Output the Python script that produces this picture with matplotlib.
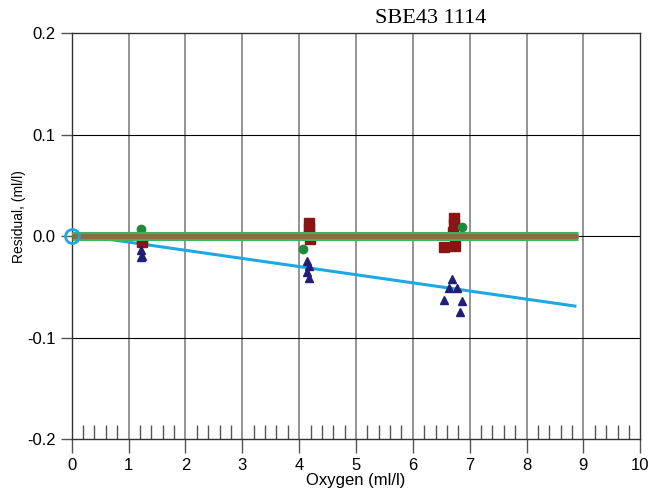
import matplotlib
matplotlib.use("Agg")
import matplotlib.pyplot as plt
import numpy as np

# Data
circ_x = [1.22, 4.07, 6.86]
circ_y = [0.0066, -0.013, 0.009]
sq_x = [1.23, 1.23, 4.17, 4.17, 4.17, 4.19, 6.55, 6.73, 6.73, 6.74, 6.70]
sq_y = [-0.003, -0.0056, 0.0125, 0.008, 0.002, -0.003, -0.0105, 0.018, 0.012, -0.0095, 0.004]
tri_x = [1.21, 1.23, 1.21, 4.14, 4.17, 4.14, 4.17, 6.68, 6.63, 6.77, 6.55, 6.87, 6.83]
tri_y = [-0.014, -0.0196, -0.021, -0.025, -0.030, -0.035, -0.041, -0.042, -0.0515, -0.0515, -0.063, -0.064, -0.0745]
green_line_x = [0.0, 8.9]
green_line_y = [0.0005, 0.0005]
brown_line_x = [0.0, 8.9]
brown_line_y = [0.0, 0.0]
cyan_line_x = [0.0, 8.85]
cyan_line_y = [0.002, -0.069]
xticks = list(range(0, 11))
yticks = [-0.2, -0.1, 0.0, 0.1, 0.2]
ytick_labels = ["-0.2", "-0.1", "0.0", "0.1", "0.2"]

plt.rcParams['font.family'] = ['Liberation Sans', 'DejaVu Sans']

fig = plt.figure(figsize=(6.52, 4.93), dpi=100)
ax = fig.add_axes([0.110, 0.1095, 0.872, 0.8235])

ax.set_xlim(0, 10)
ax.set_ylim(-0.2, 0.2)
for x in xticks[1:-1]:
    ax.axvline(x, color="#808080", lw=1.2, zorder=1)
for y in yticks[1:-1]:
    ax.axhline(y, color="#000000", lw=0.8, zorder=1)

ax.plot(cyan_line_x, cyan_line_y, color="#1EA8E0", lw=2.2, zorder=3)
ax.plot(sq_x, sq_y, 's', color="#8B1414", ms=7, zorder=4)
ax.plot(tri_x, tri_y, '^', color="#1F1F7A", ms=6, zorder=4)
ax.plot(circ_x, circ_y, 'o', color="#1E8B3A", ms=6, zorder=5)
ax.plot(green_line_x, green_line_y, color="#3DB55C", lw=6.5, zorder=6, solid_capstyle='butt')
ax.plot(brown_line_x, brown_line_y, color="#8E6A3C", lw=3.4, zorder=7, solid_capstyle='butt')
ax.plot([0], [0.0], 'o', mfc='none', mec="#1EA8E0", mew=2, ms=10, zorder=8, clip_on=False)

ax.set_xticks(xticks)
ax.set_yticks(yticks)
ax.set_yticklabels(ytick_labels)
ax.set_xticks(np.arange(0, 10.01, 0.2), minor=True)
ax.tick_params(axis='x', which='major', direction='out', length=10, width=1, labelsize=12, color="#555555")
ax.tick_params(axis='x', which='minor', direction='in', length=10, width=1, color="#555555")
ax.tick_params(axis='y', which='major', direction='out', length=8, width=1, labelsize=12, color="#555555")
ax.tick_params(axis='y', which='minor', left=False)
for s in ax.spines.values():
    s.set_color("#333333")
    s.set_linewidth(1)

ax.set_xlabel("Oxygen (ml/l)", fontsize=12, labelpad=0)
ax.set_ylabel("Residual, (ml/l)", fontsize=10)
ax.yaxis.set_label_coords(-0.080, 0.547)
fig.text(0.66, 0.963, "SBE43 1114", family="Liberation Serif", fontsize=16, ha='center', va='center')

fig.savefig("out.png", dpi=100)
